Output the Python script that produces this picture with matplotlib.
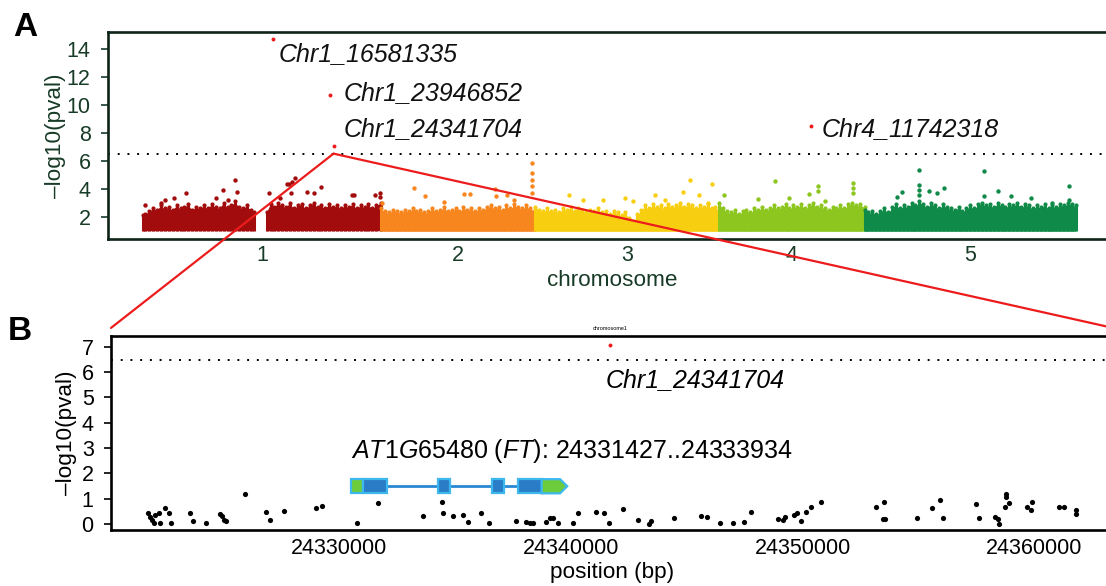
import numpy as np
import matplotlib
matplotlib.use('Agg')
import matplotlib.pyplot as plt
from matplotlib.patches import Rectangle, Polygon, ConnectionPatch

plt.rcParams['font.family'] = ['Liberation Sans', 'DejaVu Sans']
plt.rcParams['mathtext.fontset'] = 'custom'
plt.rcParams['mathtext.rm'] = 'Liberation Sans'
plt.rcParams['mathtext.it'] = 'Liberation Sans:italic'

# ---------------- data: panel A (Manhattan) ----------------
chrom_names = ['1', '2', '3', '4', '5']
chrom_len = [30.43, 19.70, 23.46, 18.59, 26.98]          # Mb
chrom_colors = ['#a30c0c', '#f7861e', '#f8cf10', '#8cc61e', '#108a48']

# upper edge of the dense SNP band (position Mb, -log10 p)
c1_pos = [0.0, 0.3, 0.8, 1.3, 1.8, 2.3, 2.8, 3.3, 3.8, 4.3, 4.8, 5.3, 5.8, 6.3, 6.8, 7.3,
          7.8, 8.3, 8.8, 9.3, 9.8, 10.3, 10.8, 11.3, 11.8, 12.3, 12.8, 13.3, 13.8, 14.2,
          15.0, 15.8, 16.3, 16.8, 17.3, 17.8, 18.3, 18.8, 19.3, 19.8, 20.3, 20.8, 21.3,
          21.8, 22.3, 22.8, 23.3, 23.8, 24.3, 24.8, 25.3, 25.8, 26.3, 26.8, 27.3, 27.8,
          28.3, 28.8, 29.3, 29.8, 30.4]
c1_top = [2.1, 2.2, 2.4, 2.6, 2.5, 2.8, 2.6, 2.7, 2.5, 2.8, 2.6, 2.7, 2.9, 2.5, 2.7, 2.6,
          2.8, 2.6, 2.9, 2.7, 2.6, 3.0, 2.7, 2.8, 3.1, 2.7, 2.6, 2.8, 2.5, 2.3,
          np.nan, 2.3, 2.9, 2.7, 3.0, 2.8, 2.7, 3.0, 2.6, 2.8, 2.9, 2.6, 2.8,
          3.0, 2.7, 2.8, 2.6, 2.9, 2.7, 2.8, 2.6, 2.8, 2.7, 2.9, 2.6, 2.8,
          2.7, 2.9, 2.6, 2.8, 3.0]
c2_pos = [0.0, 0.5, 1.0, 1.5, 2.0, 2.5, 3.0, 3.5, 4.0, 4.5, 5.0, 5.5, 6.0, 6.5, 7.0, 7.5,
          8.0, 8.5, 9.0, 9.5, 10.0, 10.5, 11.0, 11.5, 12.0, 12.5, 13.0, 13.5, 14.0, 14.5,
          15.0, 15.5, 16.0, 16.5, 17.0, 17.5, 18.0, 18.5, 19.0, 19.7]
c2_top = [2.6, 2.4, 2.3, 2.5, 2.4, 2.3, 2.5, 2.4, 2.6, 2.4, 2.5, 2.3, 2.4, 2.6, 2.4, 2.5,
          2.7, 2.4, 2.5, 2.6, 2.4, 2.7, 2.5, 2.6, 2.4, 2.6, 2.5, 2.7, 2.8, 2.6,
          2.7, 2.5, 2.8, 2.6, 2.9, 2.7, 2.6, 2.8, 2.6, 2.5]
c3_pos = [0.0, 0.5, 1.0, 1.5, 2.0, 2.5, 3.0, 3.5, 4.0, 4.5, 5.0, 5.5, 6.0, 6.5, 7.0, 7.5,
          8.0, 8.5, 9.0, 9.5, 10.0, 10.5, 11.0, 11.5, 12.0, 12.5, 13.0, 13.5, 14.0, 14.5,
          15.0, 15.5, 16.0, 16.5, 17.0, 17.5, 18.0, 18.5, 19.0, 19.5, 20.0, 20.5, 21.0,
          21.5, 22.0, 22.5, 23.0, 23.46]
c3_top = [2.7, 2.5, 2.4, 2.6, 2.4, 2.5, 2.3, 2.6, 2.5, 2.7, 2.4, 2.6, 2.5, 2.3, 2.5, 2.4,
          2.6, 2.3, 2.4, 2.2, 2.4, 2.3, 2.1, 2.3, 1.9, 1.7, 2.2, 2.5, 2.8, 2.6,
          2.9, 2.7, 2.8, 2.6, 2.9, 2.7, 2.8, 3.0, 2.7, 2.9, 2.8, 2.6, 2.8,
          2.7, 2.9, 2.6, 2.7, 2.5]
c4_pos = [0.0, 0.5, 1.0, 1.5, 2.0, 2.5, 3.0, 3.5, 4.0, 4.5, 5.0, 5.5, 6.0, 6.5, 7.0, 7.5,
          8.0, 8.5, 9.0, 9.5, 10.0, 10.5, 11.0, 11.5, 12.0, 12.5, 13.0, 13.5, 14.0, 14.5,
          15.0, 15.5, 16.0, 16.5, 17.0, 17.5, 18.0, 18.59]
c4_top = [3.0, 2.6, 2.4, 2.3, 2.5, 2.2, 2.4, 2.5, 2.3, 2.6, 2.5, 2.7, 2.5, 2.6, 2.8, 2.6,
          2.7, 2.9, 2.6, 2.8, 2.7, 2.9, 2.6, 2.8, 3.0, 2.7, 2.8, 2.6, 2.5, 2.7,
          2.6, 2.8, 2.6, 2.9, 3.0, 2.8, 2.9, 2.7]
c5_pos = [0.0, 0.5, 1.0, 1.5, 2.0, 2.5, 3.0, 3.5, 4.0, 4.5, 5.0, 5.5, 6.0, 6.5, 7.0, 7.5,
          8.0, 8.5, 9.0, 9.5, 10.0, 10.5, 11.0, 11.5, 12.0, 12.5, 13.0, 13.5, 14.0, 14.5,
          15.0, 15.5, 16.0, 16.5, 17.0, 17.5, 18.0, 18.5, 19.0, 19.5, 20.0, 20.5, 21.0,
          21.5, 22.0, 22.5, 23.0, 23.5, 24.0, 24.5, 25.0, 25.5, 26.0, 26.5, 26.98]
c5_top = [2.5, 2.3, 2.4, 2.2, 2.4, 2.6, 2.3, 2.7, 2.9, 2.6, 2.8, 2.7, 3.0, 2.8, 3.1, 2.9,
          2.7, 3.0, 2.8, 2.6, 2.9, 2.7, 2.6, 2.5, 2.7, 2.4, 2.6, 2.8, 2.6, 2.9,
          3.0, 2.8, 2.9, 2.7, 3.0, 2.8, 2.7, 2.9, 2.8, 3.0, 2.7, 2.9, 2.8,
          2.6, 2.8, 2.7, 2.9, 2.6, 2.8, 2.7, 2.9, 2.8, 3.0, 2.9, 2.8]

# individual SNPs standing above the band
c1_out_pos = [0.2, 2.3, 2.8, 4.0, 5.5, 9.3, 10.2, 10.9, 11.7, 12.0, 16.1, 17.5, 18.4, 18.6,
              18.9, 19.0, 19.4, 20.9, 21.8, 22.8, 26.7, 27.0, 29.6, 30.3, 30.3]
c1_out_val = [2.8, 3.0, 3.2, 3.3, 3.7, 3.3, 3.9, 3.2, 4.64, 3.74, 3.7, 3.3, 4.3, 4.33,
              3.7, 4.5, 4.76, 3.74, 3.7, 4.09, 3.57, 3.57, 3.57, 3.7, 3.4]
c2_out_pos = [0.1, 4.2, 5.6, 8.0, 10.6, 11.3, 14.5, 14.7, 16.1, 17.0,
              19.25, 19.25, 19.25, 19.25, 19.25]
c2_out_val = [2.98, 4.05, 3.45, 3.02, 3.62, 3.62, 3.98, 3.45, 3.57, 3.21,
              5.83, 5.12, 4.64, 4.17, 3.69]
c3_out_pos = [4.3, 6.1, 8.6, 11.4, 12.5, 15.3, 16.5, 18.9, 19.8, 20.9, 22.6, 22.0]
c3_out_val = [3.57, 3.21, 3.17, 3.33, 3.1, 3.57, 3.21, 3.74, 4.64, 3.57, 4.36, 2.98]
c4_out_pos = [0.6, 5.0, 7.1, 8.9, 11.5, 12.6, 12.6, 13.5, 17.1, 17.1, 17.1]
c4_out_val = [3.57, 3.26, 4.57, 3.33, 3.62, 4.17, 3.81, 3.1, 4.4, 4.05, 3.69]
c5_out_pos = [4.2, 4.8, 7.0, 7.0, 7.0, 7.0, 8.2, 9.2, 10.1, 15.2, 15.2, 17.0, 18.7, 21.2,
              24.0, 26.1, 26.1]
c5_out_val = [3.4, 3.74, 5.31, 4.29, 3.93, 3.57, 3.81, 3.69, 4.05, 5.24, 3.45, 3.81, 3.45,
              3.33, 2.98, 4.17, 3.21]

hit_labels = ['Chr1_16581335', 'Chr1_23946852', 'Chr1_24341704', 'Chr4_11742318']
hit_chrom = [1, 1, 1, 4]
hit_pos = [16.581335, 23.946852, 24.341704, 11.742318]   # Mb
hit_val = [14.69, 10.66, 7.07, 8.5]
threshold = 6.5

# ---------------- data: panel B (region) ----------------
reg_pos = [24321755, 24321854, 24321927, 24321996, 24322070, 24322212, 24322255, 24322470,
           24322643, 24322746, 24323548, 24323694, 24324268, 24324841, 24324944, 24325044,
           24325130, 24325951, 24326854, 24327026, 24327599, 24329009, 24329254, 24330763,
           24331694, 24333607, 24334452, 24334469, 24334926, 24335357, 24335560, 24336107,
           24336478, 24337629, 24338060, 24338232, 24338349, 24338909, 24339094, 24339236,
           24339451, 24340072, 24340314, 24341064, 24341430, 24341659, 24342240, 24342874,
           24343352, 24343452, 24344439, 24345624, 24345882, 24346434, 24347012, 24347473,
           24347762, 24348921, 24349136, 24349240, 24349645, 24349757, 24349934, 24350149,
           24350365, 24350800, 24353145, 24353520, 24353477, 24353550, 24354921, 24355601,
           24355933, 24356050, 24357481, 24357597, 24358321, 24358437, 24358494, 24358756,
           24358782, 24358727, 24358900, 24359697, 24359882, 24359839, 24361071, 24361287,
           24361791, 24361791]
reg_val = [0.42, 0.29, 0.16, 0.05, 0.36, 0.42, 0.05, 0.62,
           0.42, 0.03, 0.45, 0.13, 0.05, 0.38, 0.32, 0.16,
           0.13, 1.17, 0.49, 0.16, 0.51, 0.64, 0.71, 0.05,
           0.82, 0.32, 0.86, 0.45, 0.32, 0.36, 0.09, 0.45,
           0.05, 0.13, 0.09, 0.05, 0.05, 0.09, 0.22, 0.25,
           0.03, 0.05, 0.45, 0.46, 0.45, 0.05, 0.58, 0.15,
           0.0, 0.12, 0.24, 0.32, 0.28, 0.04, 0.05, 0.08,
           0.47, 0.19, 0.15, 0.28, 0.37, 0.43, 0.11, 0.47,
           0.65, 0.85, 0.65, 0.85, 0.21, 0.18, 0.24, 0.64,
           0.94, 0.25, 0.77, 0.25, 0.28, 0.19, 0.01, 1.18,
           1.07, 0.68, 0.81, 0.68, 0.85, 0.54, 0.65, 0.65,
           0.54, 0.41]
top_snp_label = 'Chr1_24341704'
top_snp_pos = 24341704
top_snp_val = 7.07
region_xticks = [24330000, 24340000, 24350000, 24360000]

gene_id = 'AT1G65480'
gene_symbol = 'FT'
gene_start = 24331427
gene_end = 24333934
utr5 = (24330504, 24331047)
exon_starts = [24331047, 24334254, 24336581, 24337728]
exon_ends = [24332056, 24334784, 24337112, 24338737]
utr3 = (24338737, 24339840)

# ---------------- figure ----------------
W, H = 1106, 586
fig = plt.figure(figsize=(W / 100, H / 100), dpi=100)


def rect(l, t, r, b):
    return [l / W, 1 - b / H, (r - l) / W, (b - t) / H]


dark_green = '#183b27'
red = '#ec1c1c'
tick_fs = 15.5
lab_fs = 16.2
ann_fs = 18

ax1 = fig.add_axes(rect(108, 32, 1116, 238.5))
ax2 = fig.add_axes(rect(111, 336, 1113, 530))

offsets = np.concatenate([[0], np.cumsum(chrom_len)[:-1]])
tops = [(c1_pos, c1_top), (c2_pos, c2_top), (c3_pos, c3_top), (c4_pos, c4_top), (c5_pos, c5_top)]
outs = [(c1_out_pos, c1_out_val), (c2_out_pos, c2_out_val), (c3_out_pos, c3_out_val),
        (c4_out_pos, c4_out_val), (c5_out_pos, c5_out_val)]
for i in range(5):
    p, t = tops[i]
    x = offsets[i] + np.array(p)
    t = np.array(t, dtype=float)
    ax1.fill_between(x, 0.95, t - 0.08, color=chrom_colors[i], lw=0, zorder=2)
    ax1.vlines(x, 0.95, t, color=chrom_colors[i], lw=2.2, zorder=2)
    ax1.scatter(x, t, s=9, color=chrom_colors[i], lw=0, zorder=2)
    op, ov = outs[i]
    ax1.scatter(offsets[i] + np.array(op), ov, s=10, color=chrom_colors[i], lw=0, zorder=2)

hx = [offsets[c - 1] + p for c, p in zip(hit_chrom, hit_pos)]
ax1.scatter(hx, hit_val, s=8, color=red, lw=0, zorder=4)
hit_offsets = [(6, -15), (13, 2), (10, 17), (11, -3)]
for lab, x, y, off in zip(hit_labels, hx, hit_val, hit_offsets):
    ax1.annotate(lab, (x, y), xytext=off, textcoords='offset pixels', fontsize=ann_fs,
                 style='italic', va='center', ha='left', color='#111111')

ax1.axhline(threshold, color='black', lw=1.4, ls=(0, (1, 4)), zorder=1)
ax1.set_xlim(-4.47, 124.3)
ax1.set_ylim(0.43, 15.2)
ax1.set_yticks([2, 4, 6, 8, 10, 12, 14])
centers = offsets + np.array(chrom_len) / 2
ax1.set_xticks(centers)
ax1.set_xticklabels(chrom_names)
ax1.tick_params(axis='x', length=0, pad=4.5, labelsize=tick_fs, labelcolor=dark_green)
ax1.tick_params(axis='y', length=5, width=1.2, pad=7.5, labelsize=tick_fs, labelcolor=dark_green,
                color=dark_green)
for s in ax1.spines.values():
    s.set_linewidth(1.9)
    s.set_color('#0e2418')
ax1.set_xlabel('chromosome', fontsize=lab_fs, color=dark_green, labelpad=3)
ax1.set_ylabel('\u2013log10(pval)', fontsize=lab_fs, color=dark_green, labelpad=0.5)

# ---- panel B ----
ax2.scatter(reg_pos, reg_val, s=14, color='black', lw=0, zorder=3)
ax2.scatter([top_snp_pos], [top_snp_val], s=8, color=red, lw=0, zorder=4)
ax2.annotate(top_snp_label, (top_snp_pos, top_snp_val), xytext=(-5, -35),
             textcoords='offset pixels', fontsize=ann_fs, style='italic', va='center', ha='left')
ax2.annotate('chromosome1', (top_snp_pos, top_snp_val), xytext=(0, 17),
             textcoords='offset pixels', fontsize=4, va='center', ha='center',
             annotation_clip=False)
ax2.axhline(threshold, color='black', lw=1.4, ls=(0, (1, 4)), zorder=1)

gy, gh = 1.49, 0.28
blue, cyan, green = '#2b7cc6', '#3cb8ec', '#6dcc3c'
ax2.plot([exon_ends[0], exon_starts[-1]], [gy, gy], color='#2a88d2', lw=2, zorder=4)
ax2.add_patch(Rectangle((utr5[0], gy - gh), utr5[1] - utr5[0], 2 * gh, fc=green, ec=cyan,
                        lw=1.6, zorder=5))
for s0, e0 in zip(exon_starts, exon_ends):
    ax2.add_patch(Rectangle((s0, gy - gh), e0 - s0, 2 * gh, fc=blue, ec=cyan, lw=1.6, zorder=5))
tip = utr3[1] - 0.28 * (utr3[1] - utr3[0])
ax2.add_patch(Polygon([(utr3[0], gy - gh), (tip, gy - gh), (utr3[1], gy), (tip, gy + gh),
                       (utr3[0], gy + gh)], closed=True, fc=green, ec=cyan, lw=1.6, zorder=5))
gene_text = (r'$\mathit{' + gene_id + r'}$ ($\mathit{' + gene_symbol + r'}$): '
             + f'{gene_start}..{gene_end}')
ax2.text(utr5[0], 2.6, gene_text, fontsize=ann_fs, va='baseline', ha='left')

ax2.set_xlim(24320154, 24363392)
ax2.set_ylim(-0.24, 7.43)
ax2.set_yticks(range(8))
ax2.set_xticks(region_xticks)
ax2.set_xticklabels([str(v) for v in region_xticks])
ax2.tick_params(axis='x', length=0, pad=6, labelsize=tick_fs)
ax2.tick_params(axis='y', length=5, width=1.2, pad=7.5, labelsize=tick_fs)
for s in ax2.spines.values():
    s.set_linewidth(1.9)
    s.set_color('black')
ax2.set_xlabel('position (bp)', fontsize=lab_fs, labelpad=2)
ax2.set_ylabel('\u2013log10(pval)', fontsize=lab_fs, labelpad=3)

# zoom lines
apex = (offsets[0] + hit_pos[2], threshold)
for xb in ax2.get_xlim():
    con = ConnectionPatch(xyA=apex, coordsA=ax1.transData, xyB=(xb, 7.75), coordsB=ax2.transData,
                          color=red, lw=1.6, zorder=10)
    fig.add_artist(con)

fig.text(13 / W, 1 - 36 / H, 'A', fontsize=24, fontweight='bold', va='baseline')
fig.text(8 / W, 1 - 340 / H, 'B', fontsize=24, fontweight='bold', va='baseline')

fig.savefig('out.png', dpi=100)
